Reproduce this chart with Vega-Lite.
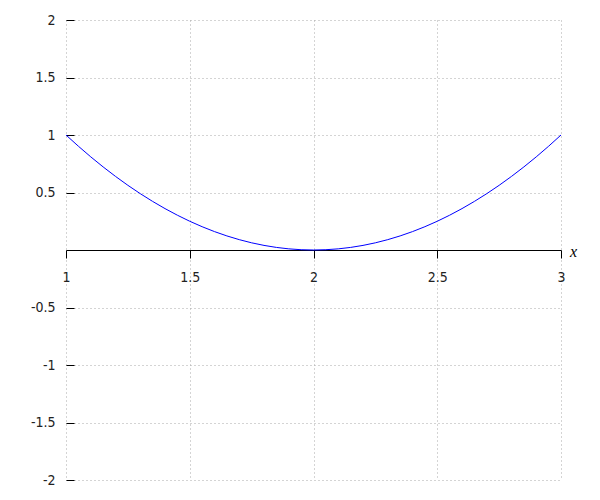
{
  "$schema": "https://vega.github.io/schema/vega-lite/v6.json",
  "width": 495,
  "height": 460,
  "autosize": {"type": "none"},
  "padding": {"left": 66, "top": 20, "right": 39, "bottom": 20},
  "background": "white",
  "config": {"view": {"stroke": null}},
  "layer": [
    {
      "data": {"values": [
        {"x": 1, "y": 1}, {"x": 1.05, "y": 0.9025}, {"x": 1.1, "y": 0.81}, {"x": 1.15, "y": 0.7225},
        {"x": 1.2, "y": 0.64}, {"x": 1.25, "y": 0.5625}, {"x": 1.3, "y": 0.49}, {"x": 1.35, "y": 0.4225},
        {"x": 1.4, "y": 0.36}, {"x": 1.45, "y": 0.3025}, {"x": 1.5, "y": 0.25}, {"x": 1.55, "y": 0.2025},
        {"x": 1.6, "y": 0.16}, {"x": 1.65, "y": 0.1225}, {"x": 1.7, "y": 0.09}, {"x": 1.75, "y": 0.0625},
        {"x": 1.8, "y": 0.04}, {"x": 1.85, "y": 0.0225}, {"x": 1.9, "y": 0.01}, {"x": 1.95, "y": 0.0025},
        {"x": 2, "y": 0},
        {"x": 2.05, "y": 0.0025}, {"x": 2.1, "y": 0.01}, {"x": 2.15, "y": 0.0225}, {"x": 2.2, "y": 0.04},
        {"x": 2.25, "y": 0.0625}, {"x": 2.3, "y": 0.09}, {"x": 2.35, "y": 0.1225}, {"x": 2.4, "y": 0.16},
        {"x": 2.45, "y": 0.2025}, {"x": 2.5, "y": 0.25}, {"x": 2.55, "y": 0.3025}, {"x": 2.6, "y": 0.36},
        {"x": 2.65, "y": 0.4225}, {"x": 2.7, "y": 0.49}, {"x": 2.75, "y": 0.5625}, {"x": 2.8, "y": 0.64},
        {"x": 2.85, "y": 0.7225}, {"x": 2.9, "y": 0.81}, {"x": 2.95, "y": 0.9025}, {"x": 3, "y": 1}
      ]},
      "mark": {"type": "line", "color": "#0000ff", "strokeWidth": 1, "interpolate": "monotone"},
      "encoding": {
        "x": {
          "field": "x", "type": "quantitative",
          "scale": {"domain": [1, 3], "nice": false, "zero": false},
          "axis": {
            "orient": "bottom", "offset": -230, "title": null,
            "values": [1, 1.5, 2, 2.5, 3],
            "labelExpr": "'' + datum.value",
            "domain": true, "domainColor": "#000000", "domainWidth": 1,
            "ticks": true, "tickColor": "#000000", "tickSize": 8, "tickWidth": 1,
            "labelPadding": 12, "labelFont": "DejaVu Sans Condensed", "labelFontSize": 14,
            "labelColor": "#222222", "labelAlign": "center", "labelBound": false, "labelFlush": false,
            "labelOverlap": false,
            "grid": true, "gridColor": "#a8a8a8", "gridDash": [1, 3], "gridWidth": 1
          }
        },
        "y": {
          "field": "y", "type": "quantitative",
          "scale": {"domain": [-2, 2], "nice": false, "zero": false},
          "axis": {
            "orient": "left", "title": null,
            "values": [-2, -1.5, -1, -0.5, 0.5, 1, 1.5, 2],
            "labelExpr": "'' + datum.value",
            "domain": false,
            "ticks": true, "tickColor": "#000000", "tickSize": -8, "tickWidth": 1,
            "labelPadding": 19, "labelFont": "DejaVu Sans Condensed", "labelFontSize": 14,
            "labelColor": "#222222", "labelBound": false, "labelFlush": false, "labelOverlap": false,
            "grid": true, "gridColor": "#a8a8a8", "gridDash": [1, 3], "gridWidth": 1
          }
        }
      }
    },
    {
      "data": {"values": [{"x": 3, "y": 0, "label": "x"}]},
      "mark": {"type": "text", "font": "Liberation Serif", "fontStyle": "italic", "fontSize": 16, "color": "#000000", "align": "left", "baseline": "middle", "dx": 9, "dy": 2, "clip": false},
      "encoding": {
        "x": {"field": "x", "type": "quantitative"},
        "y": {"field": "y", "type": "quantitative"},
        "text": {"field": "label"}
      }
    }
  ]
}
